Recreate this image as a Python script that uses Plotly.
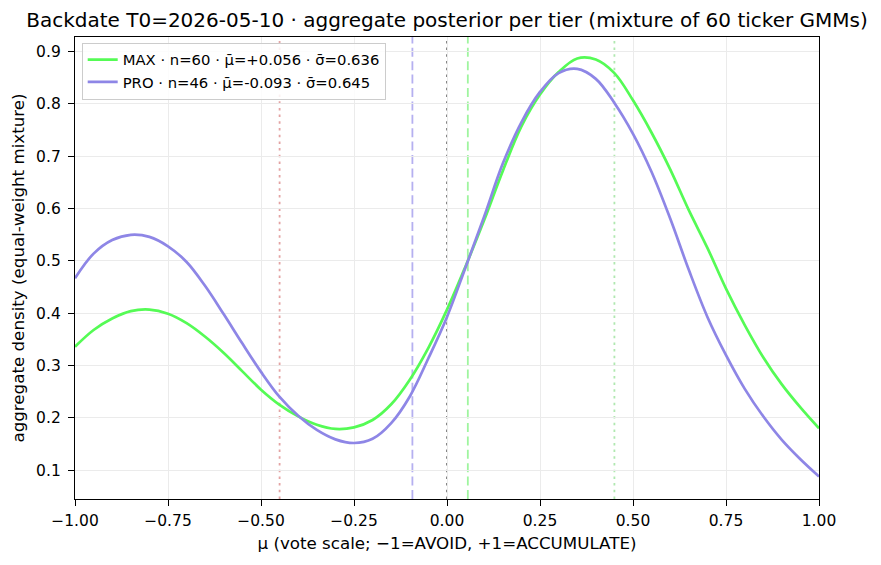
import plotly.graph_objects as go

mu = [-1.00, -0.95, -0.90, -0.85, -0.80, -0.75, -0.70, -0.65, -0.60, -0.55,
      -0.50, -0.45, -0.40, -0.35, -0.30, -0.25, -0.20, -0.15, -0.10, -0.05,
      0.00, 0.05, 0.10, 0.15, 0.20, 0.25, 0.30, 0.35, 0.40, 0.45,
      0.50, 0.55, 0.60, 0.65, 0.70, 0.75, 0.80, 0.85, 0.90, 0.95, 1.00]

max_density = [0.336, 0.368, 0.390, 0.404, 0.407, 0.399, 0.381, 0.355, 0.324, 0.289,
               0.254, 0.225, 0.203, 0.187, 0.179, 0.182, 0.196, 0.226, 0.273, 0.334,
               0.407, 0.490, 0.578, 0.672, 0.757, 0.818, 0.861, 0.887, 0.885, 0.859,
               0.807, 0.745, 0.675, 0.597, 0.525, 0.447, 0.378, 0.316, 0.264, 0.220, 0.180]

pro_density = [0.467, 0.514, 0.540, 0.550, 0.546, 0.528, 0.498, 0.452, 0.398, 0.342,
               0.288, 0.240, 0.204, 0.177, 0.159, 0.152, 0.160, 0.190, 0.241, 0.314,
               0.393, 0.488, 0.585, 0.686, 0.765, 0.823, 0.859, 0.867, 0.848, 0.802,
               0.743, 0.670, 0.581, 0.483, 0.393, 0.320, 0.256, 0.203, 0.158, 0.121, 0.088]

series_names = ["MAX · n=60 · μ̄=+0.056 · σ̄=0.636",
                "PRO · n=46 · μ̄=-0.093 · σ̄=0.645"]
series_colors = ["#55fb55", "#8e86e6"]

# reference lines: x position, colour, dash
ref_x = [-0.45, -0.093, 0.0, 0.056, 0.45]
ref_colors = ["#e3a3a3", "#b5b0f0", "#7a7a7a", "#9ff59f", "#b0e8b0"]
ref_dash = ["2.5px,4.2px", "9px,4.4px", "2.5px,4.2px", "9px,4.4px", "2.5px,4.2px"]

title = "Backdate T0=2026-05-10 · aggregate posterior per tier (mixture of 60 ticker GMMs)"
x_label = "μ (vote scale; −1=AVOID, +1=ACCUMULATE)"
y_label = "aggregate density (equal-weight mixture)"

fig = go.Figure()
for name, ys, col in zip(series_names, [max_density, pro_density], series_colors):
    fig.add_trace(go.Scatter(x=mu, y=ys, mode="lines", name=name,
                             line=dict(color=col, width=2.7, shape="spline", smoothing=1.0)))

for xv, col, d in zip(ref_x, ref_colors, ref_dash):
    fig.add_shape(type="line", xref="x", yref="paper", x0=xv, x1=xv, y0=0, y1=1,
                  line=dict(color=col, width=1.8, dash=d), layer="below")

W, H = 865, 549
font = "DejaVu Sans, Liberation Sans, sans-serif"
fig.update_layout(
    width=W, height=H,
    margin=dict(l=67, r=54, t=29, b=58),
    paper_bgcolor="white", plot_bgcolor="white",
    font=dict(family=font, size=16.7, color="black"),
    title=dict(text=title, x=439 / W, xanchor="center", y=1 - 12 / H, yanchor="middle",
               yref="container", font=dict(size=20, color="black")),
    showlegend=True,
    legend=dict(x=0.009, y=0.988, xanchor="left", yanchor="top",
                bgcolor="rgba(255,255,255,0.85)", bordercolor="#cccccc", borderwidth=1,
                font=dict(size=14.8), tracegroupgap=0, itemwidth=30),
)
fig.update_xaxes(range=[-1, 1], tick0=-1, dtick=0.25, tickformat=".2f", automargin=False,
                 showline=True, linecolor="black", linewidth=1.3, mirror=True,
                 ticks="outside", ticklen=6, tickwidth=1.2, tickcolor="black",
                 showgrid=True, gridcolor="#ebebeb", gridwidth=0.8, zeroline=False,
                 title=dict(text=x_label, standoff=8, font=dict(size=16.7)),
                 tickfont=dict(size=15.5), ticklabelstandoff=1)
fig.update_yaxes(range=[0.045, 0.928], tick0=0.1, dtick=0.1, tickformat=".1f", automargin=False,
                 showline=True, linecolor="black", linewidth=1.3, mirror=True,
                 ticks="outside", ticklen=6, tickwidth=1.2, tickcolor="black",
                 showgrid=True, gridcolor="#ebebeb", gridwidth=0.8, zeroline=False,
                 title=dict(text=y_label, standoff=9, font=dict(size=16.7)),
                 tickfont=dict(size=15.5), ticklabelstandoff=4)

fig.write_html("out.html")
